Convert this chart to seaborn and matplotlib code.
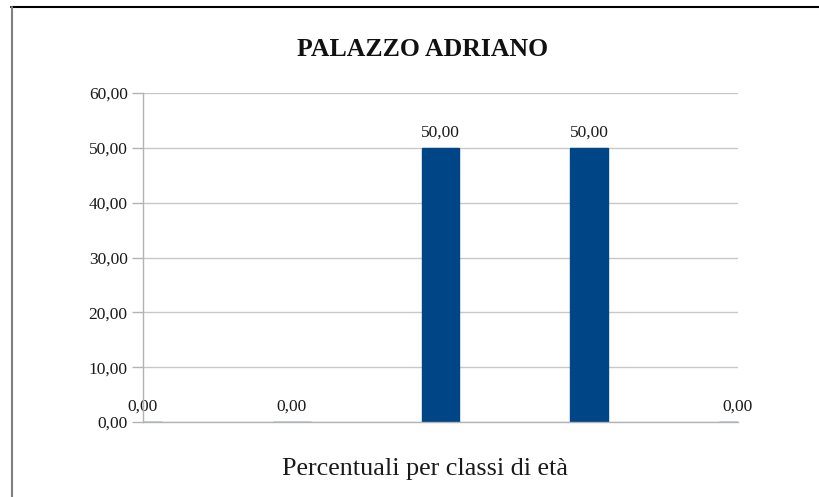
import matplotlib
matplotlib.use("Agg")
import matplotlib.pyplot as plt
from matplotlib.lines import Line2D
from matplotlib.ticker import FuncFormatter
import seaborn as sns
import pandas as pd

# Age classes and share of residents (%)
classi = ["0-14", "15-29", "30-44", "45-64", "65+"]
percentuali = [0.0, 0.0, 50.0, 50.0, 0.0]
y_ticks = [0, 10, 20, 30, 40, 50, 60]

titolo = "PALAZZO ADRIANO"
etichetta_x = "Percentuali per classi di età"

sns.set_theme(style="white")
plt.rcParams["font.family"] = ["Liberation Serif", "DejaVu Serif"]

df = pd.DataFrame({"classe": classi, "valore": percentuali})

fig = plt.figure(figsize=(8.2, 4.97), dpi=100)
ax = fig.add_axes([143 / 820, 1 - 422 / 497, (738 - 143) / 820, (422 - 93) / 497])

sns.barplot(data=df, x="classe", y="valore", color="#004586", width=0.255,
            saturation=1, edgecolor="#004586", linewidth=1, ax=ax, zorder=3)

ax.set_xlim(0, len(classi) - 1)
ax.set_ylim(0, 60)
ax.set_yticks(y_ticks)
ax.yaxis.set_major_formatter(FuncFormatter(lambda v, _: f"{v:.2f}".replace(".", ",")))
ax.set_xticks([])
ax.set_xlabel(etichetta_x, fontsize=18.8, color="#1a1a1a")
ax.xaxis.set_label_coords((425 - 143) / 595, -0.11)
ax.set_ylabel("")

ax.grid(axis="y", color="#c8c8c8", linewidth=1, zorder=0)
for side in ("top", "right"):
    ax.spines[side].set_visible(False)
for side in ("left", "bottom"):
    ax.spines[side].set_color("#b3b3b3")
    ax.spines[side].set_linewidth(1)
    ax.spines[side].set_zorder(4)

ax.tick_params(axis="y", which="both", left=True, length=8, width=1,
               color="#b3b3b3", labelsize=12.5, labelcolor="#1a1a1a", pad=3)

# Value labels above each bar
for i, v in enumerate(percentuali):
    ax.annotate(f"{v:.2f}".replace(".", ","), xy=(i, v), xytext=(0, 5),
                textcoords="offset points", ha="center", va="bottom",
                fontsize=12.5, color="#1a1a1a", annotation_clip=False)

fig.text(423 / 820, 1 - 50 / 497, titolo, ha="center", va="center",
         fontsize=18.5, fontweight="bold", color="#111111")

# Outer frame
fig.add_artist(Line2D([11 / 820, 1], [1 - 7 / 497, 1 - 7 / 497],
                      transform=fig.transFigure, color="black", linewidth=1.5))
fig.add_artist(Line2D([12 / 820, 12 / 820], [1 - 7 / 497, 0],
                      transform=fig.transFigure, color="#808080", linewidth=1.5))

fig.savefig("out.png", dpi=100)
